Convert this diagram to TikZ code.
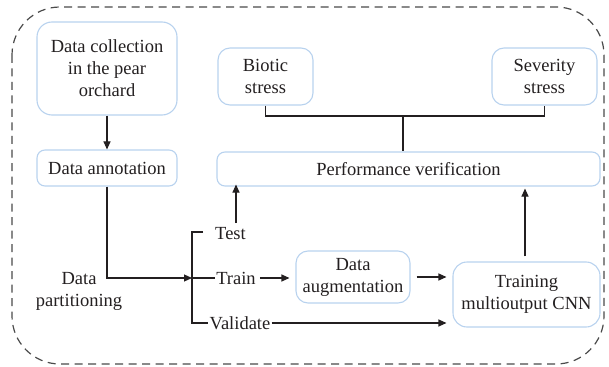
\documentclass[tikz,border=0pt]{standalone}
\usepackage{fontspec}
\setmainfont{Liberation Serif}
\usetikzlibrary{arrows.meta}
\definecolor{boxc}{HTML}{B8D2EE}
\definecolor{linec}{HTML}{231F20}
\definecolor{dashc}{HTML}{4A4A4A}
\begin{document}
\begin{tikzpicture}[x=1pt,y=-1pt,
 box/.style={draw=boxc, line width=1.1pt, rounded corners=8pt, align=center, inner sep=0pt, text=linec},
 lbl/.style={inner sep=1pt, text=linec, align=center},
 conn/.style={draw=linec, line width=1.1pt},
 arr/.style={conn, -{Triangle[length=8pt,width=7pt]}},
 font=\fontsize{18.5}{22}\selectfont]
\useasboundingbox (0,0) rectangle (609,366);
\draw[dashc, line width=1.2pt, dash pattern=on 8pt off 5.5pt, rounded corners=48pt] (12,7) rectangle (604,364);

\node[box, rounded corners=15pt, minimum width=140pt, minimum height=93pt] (dc) at (107,68.5) {Data collection\\in the pear\\orchard};
\node[box, minimum width=140pt, minimum height=36pt] (da) at (107,168) {Data annotation};
\node[box, rounded corners=12pt, minimum width=95pt, minimum height=57pt] (bio) at (265.5,76.5) {Biotic\\stress};
\node[box, rounded corners=12pt, minimum width=105pt, minimum height=57pt] (sev) at (544.5,76.5) {Severity\\stress};
\node[box, minimum width=383pt, minimum height=34pt] (pv) at (408.5,169) {Performance verification};
\node[box, rounded corners=12pt, minimum width=114pt, minimum height=52pt] (aug) at (353,277) {Data\\augmentation};
\node[box, rounded corners=14pt, minimum width=147pt, minimum height=65pt] (cnn) at (526.5,294.5) {Training\\multioutput CNN};

\node[lbl] (part) at (79,291) {Data\\partitioning};
\node[lbl] (test) at (230.5,234) {Test};
\node[lbl] (train) at (236,278) {Train};
\node[lbl] (val) at (240,323) {Validate};

\coordinate (br) at (192,278);
\coordinate (bt) at (192,232);
\coordinate (bb) at (192,323);
\coordinate (j) at (403,116);
\coordinate (ta) at (236,223);

\draw[arr] (dc.south) -- (da.north);
\draw[arr] (da.south) |- (br);
\draw[conn] ([xshift=-11pt]test.west |- bt) -- (bt) -- (bb) -- (val.west);
\draw[conn] (br) -- (train.west);
\draw[arr] (ta) -- ([yshift=2pt]ta |- pv.south);
\draw[arr, shorten <=3pt, shorten >=6pt] (train.east) -- (train.east -| aug.west);
\draw[arr, shorten <=6pt, shorten >=6pt] (aug.east) -- (aug.east -| cnn.west);
\draw[arr, shorten >=6pt] (val.east) -- (val.east -| cnn.west);
\draw[arr, shorten <=5pt, shorten >=2pt] ([xshift=-1.5pt]cnn.north) -- ([xshift=-1.5pt]cnn.north |- pv.south);
\draw[conn] (bio.south) -- (bio.south |- j) -- (sev.south |- j) -- (sev.south);
\draw[conn] (j) -- (j |- pv.north);
\end{tikzpicture}
\end{document}
